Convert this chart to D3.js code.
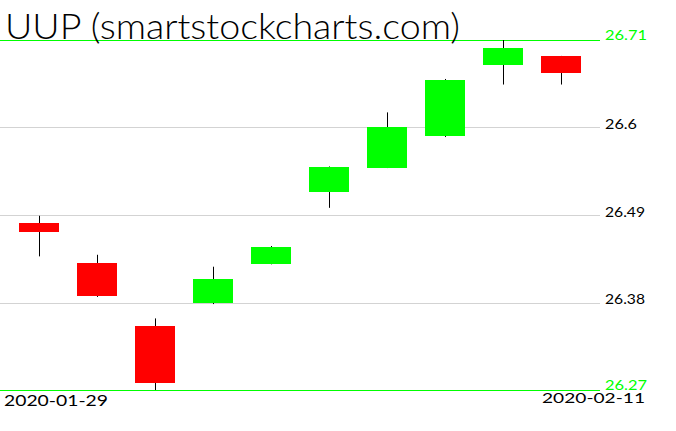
<!DOCTYPE html>
<html><head><meta charset="utf-8">
<script src="https://cdn.jsdelivr.net/npm/d3@7"></script>
<style>html,body{margin:0;padding:0;background:#fff;}svg{display:block;}</style>
</head><body>
<script>
const dates = ["2020-01-29","2020-01-30","2020-01-31","2020-02-03","2020-02-04","2020-02-05","2020-02-06","2020-02-07","2020-02-10","2020-02-11"];
const opens  = [26.480, 26.430, 26.350, 26.379, 26.428, 26.519, 26.549, 26.589, 26.679, 26.690];
const highs  = [26.489, 26.440, 26.360, 26.425, 26.451, 26.551, 26.619, 26.661, 26.710, 26.690];
const lows   = [26.438, 26.387, 26.270, 26.378, 26.428, 26.499, 26.549, 26.588, 26.654, 26.654];
const closes = [26.469, 26.388, 26.279, 26.410, 26.450, 26.550, 26.601, 26.660, 26.700, 26.669];
const gridTicks = [26.6, 26.49, 26.38];
const boundTicks = [26.71, 26.27];
const title = "UUP (smartstockcharts.com)";

const W = 676, H = 431;
const svg = d3.select("body").append("svg").attr("width", W).attr("height", H);
const x = d3.scalePoint().domain(dates).range([39, 561]);
const y = d3.scaleLinear().domain([26.27, 26.71]).range([390, 40]);
const bodyW = 40;
const font = "Lato, Inter, 'DejaVu Sans', sans-serif";

// gridlines
svg.selectAll("line.grid").data(gridTicks).enter().append("line")
  .attr("x1", 0).attr("x2", 600)
  .attr("y1", d => Math.round(y(d)) + 0.5).attr("y2", d => Math.round(y(d)) + 0.5)
  .attr("stroke", "#d3d3d3").attr("stroke-width", 1);
svg.selectAll("line.bound").data(boundTicks).enter().append("line")
  .attr("x1", 0).attr("x2", 600)
  .attr("y1", d => Math.round(y(d)) + 0.5).attr("y2", d => Math.round(y(d)) + 0.5)
  .attr("stroke", "#00ff00").attr("stroke-width", 1.2);

// labels
svg.selectAll("text.grid").data(gridTicks).enter().append("text")
  .attr("x", 605).attr("y", d => y(d) + 1.5)
  .attr("font-family", font).attr("font-size", 13).attr("fill", "#000")
  .attr("textLength", d => String(d).length * 8).attr("lengthAdjust", "spacingAndGlyphs")
  .text(d => d);
svg.selectAll("text.bound").data(boundTicks).enter().append("text")
  .attr("x", 605).attr("y", d => y(d))
  .attr("font-family", font).attr("font-size", 14).attr("fill", "#00ff00")
  .attr("textLength", d => String(d).length * 8.4).attr("lengthAdjust", "spacingAndGlyphs")
  .text(d => d);

// candles
const data = dates.map((d, i) => ({d, o: opens[i], h: highs[i], l: lows[i], c: closes[i]}));
const g = svg.append("g");
g.selectAll("line.wick").data(data).enter().append("line")
  .attr("x1", d => Math.round(x(d.d)) + 0.5).attr("x2", d => Math.round(x(d.d)) + 0.5)
  .attr("y1", d => y(d.h)).attr("y2", d => y(d.l))
  .attr("stroke", "#000").attr("stroke-width", 1);
g.selectAll("rect.body").data(data).enter().append("rect")
  .attr("x", d => Math.round(x(d.d) - bodyW / 2))
  .attr("width", bodyW)
  .attr("y", d => y(Math.max(d.o, d.c)))
  .attr("height", d => Math.max(1, Math.abs(y(d.o) - y(d.c))))
  .attr("fill", d => d.c >= d.o ? "#00ff00" : "#ff0000")
  .attr("shape-rendering", "crispEdges");

// title
svg.append("text").attr("x", 5).attr("y", 39)
  .attr("font-family", font).attr("font-weight", 300).attr("font-size", 36).attr("fill", "#000")
  .attr("textLength", 455).attr("lengthAdjust", "spacingAndGlyphs")
  .text(title);

// date labels
svg.append("text").attr("x", 4).attr("y", 406)
  .attr("font-family", font).attr("font-size", 14.5).attr("fill", "#000")
  .attr("textLength", 104).attr("lengthAdjust", "spacingAndGlyphs")
  .text(dates[0]);
svg.append("text").attr("x", 542).attr("y", 403)
  .attr("font-family", font).attr("font-size", 14).attr("fill", "#000")
  .attr("textLength", 103).attr("lengthAdjust", "spacingAndGlyphs")
  .text(dates[dates.length - 1]);
</script>
</body></html>
